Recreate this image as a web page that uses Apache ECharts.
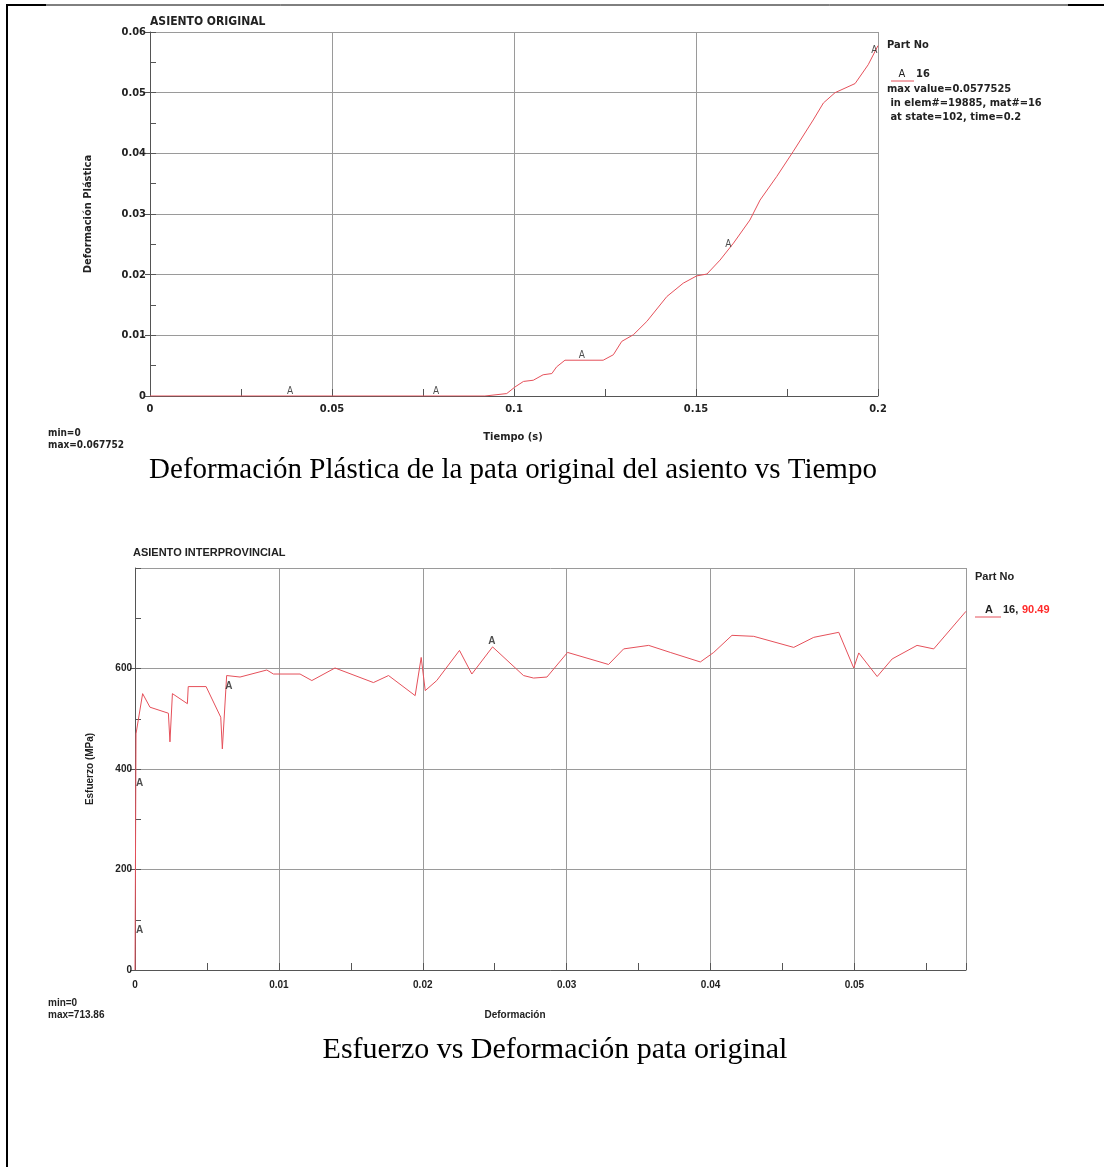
<!DOCTYPE html>
<html>
<head>
<meta charset="utf-8">
<script src="https://cdn.jsdelivr.net/npm/echarts@6/dist/echarts.min.js"></script>
<style>
  html, body { margin: 0; padding: 0; background: #fff; }
  #main { width: 1104px; height: 1167px; }
</style>
</head>
<body>
<div id="main"></div>
<script>
// grafica 1: deformacion plastica vs tiempo
var tiempo = [0, 0.092, 0.098, 0.1003, 0.1026, 0.1053, 0.108, 0.1104, 0.1117, 0.114, 0.1245, 0.1273,
  0.1296, 0.1328, 0.1365, 0.142, 0.1465, 0.1502, 0.153, 0.1566, 0.1603, 0.1648, 0.1676, 0.1722,
  0.1767, 0.1822, 0.185, 0.1882, 0.1937, 0.1973, 0.2];
var defPlastica = [0, 0, 0.0004, 0.0015, 0.0024, 0.0026, 0.0035, 0.0037, 0.0048, 0.0059, 0.0059, 0.0068,
  0.009, 0.0101, 0.0123, 0.0164, 0.0186, 0.0198, 0.0201, 0.0224, 0.0252, 0.029, 0.0323, 0.0362,
  0.0403, 0.0455, 0.0483, 0.05, 0.0515, 0.0546, 0.0577525];
// marcas "A" de la curva 1
var tiempoA = [0.0385, 0.0786, 0.1186, 0.1589, 0.199];
var defA = [0, 0, 0.0059, 0.0241, 0.0562];

// grafica 2: esfuerzo vs deformacion
var deformacion = [0, 0.00007, 0.00053, 0.00104, 0.00232, 0.00243, 0.0026, 0.00364, 0.0037, 0.00494,
  0.00596, 0.00607, 0.00637, 0.0073, 0.00916, 0.00962, 0.01147, 0.01229, 0.0139, 0.01657, 0.01762,
  0.01947, 0.01989, 0.02017, 0.02097, 0.02255, 0.02341, 0.02485, 0.027, 0.0277, 0.02863, 0.03006,
  0.03291, 0.03396, 0.0357, 0.0372, 0.03929, 0.04022, 0.04149, 0.043, 0.04578, 0.04717, 0.04891,
  0.04995, 0.0503, 0.05158, 0.05262, 0.05435, 0.05551, 0.0577525];
var esfuerzo = [0, 470, 550, 523, 511, 454, 550, 530, 564, 564,
  503, 440, 586, 583, 597, 589, 589, 576, 601, 572, 586,
  546, 622, 556, 576, 636, 589, 643, 586, 581, 583, 632,
  608, 639, 646, 632, 613, 632, 666, 664, 642, 662, 672,
  601, 631, 584, 619, 646, 639, 713.86];
var deformacionA = [0, 0, 0.0062, 0.0248];
var esfuerzoA = [79, 371, 565, 642];

var rojo = '#e5505a';
var gris = '#9a9a9a';
var narrow = '"Liberation Sans Narrow", "DejaVu Sans Condensed", sans-serif';
var sans = '"Liberation Sans", Arial, sans-serif';
var serif = '"Liberation Serif", "Times New Roman", serif';

function zip(a, b) {
  return a.map(function (v, i) { return [v, b[i]]; });
}

function txt(text, x, y, font, opts) {
  opts = opts || {};
  return {
    type: 'text',
    rotation: opts.rotation || 0,
    x: x, y: y,
    style: {
      text: text,
      font: font,
      fill: opts.fill || '#222',
      align: opts.align || 'left',
      verticalAlign: opts.va || 'middle'
    }
  };
}

function linea(x1, y1, x2, y2, color, w) {
  return { type: 'line', shape: { x1: x1, y1: y1, x2: x2, y2: y2 }, style: { stroke: color, lineWidth: w } };
}

var chart = echarts.init(document.getElementById('main'), null, { renderer: 'canvas' });

var option = {
  animation: false,
  backgroundColor: '#fff',
  grid: [
    { left: 150, top: 32, width: 728, height: 364 },
    { left: 135, top: 568, width: 831, height: 402 }
  ],
  xAxis: [
    {
      gridIndex: 0, type: 'value', min: 0, max: 0.2, interval: 0.05,
      axisLine: { show: true, onZero: false, lineStyle: { color: '#555', width: 1 } },
      axisTick: { show: false },
      axisLabel: { color: '#222', fontFamily: narrow, fontWeight: 'bold', fontSize: 11, margin: 8 },
      splitLine: { show: true, lineStyle: { color: gris, width: 1 } }
    },
    {
      gridIndex: 0, type: 'value', min: 0, max: 0.2, interval: 0.025, position: 'bottom',
      axisLine: { show: false },
      axisTick: { show: true, inside: true, length: 7, lineStyle: { color: '#555' } },
      axisLabel: { show: false }, splitLine: { show: false }
    },
    {
      gridIndex: 1, type: 'value', min: 0, max: 0.0577525, interval: 0.01,
      axisLine: { show: true, onZero: false, lineStyle: { color: '#555', width: 1 } },
      axisTick: { show: false },
      axisLabel: {
        color: '#222', fontFamily: sans, fontWeight: 'bold', fontSize: 10, margin: 10,
        showMaxLabel: false
      },
      splitLine: { show: true, lineStyle: { color: gris, width: 1 } }
    },
    {
      gridIndex: 1, type: 'value', min: 0, max: 0.0577525, interval: 0.005, position: 'bottom',
      axisLine: { show: false },
      axisTick: { show: true, inside: true, length: 7, lineStyle: { color: '#555' } },
      axisLabel: { show: false }, splitLine: { show: false }
    }
  ],
  yAxis: [
    {
      gridIndex: 0, type: 'value', min: 0, max: 0.06, interval: 0.01,
      name: 'Deformación Plástica', nameLocation: 'middle', nameGap: 56,
      nameTextStyle: { color: '#222', fontFamily: narrow, fontWeight: 'bold', fontSize: 11 },
      axisLine: { show: true, lineStyle: { color: '#555', width: 1 } },
      axisTick: { show: true, inside: false, length: 5, lineStyle: { color: '#555' } },
      axisLabel: { color: '#222', fontFamily: narrow, fontWeight: 'bold', fontSize: 11, margin: 4 },
      splitLine: { show: true, lineStyle: { color: gris, width: 1 } }
    },
    {
      gridIndex: 0, type: 'value', min: 0, max: 0.06, interval: 0.005, position: 'left',
      axisLine: { show: false },
      axisTick: { show: true, inside: true, length: 6, lineStyle: { color: '#555' } },
      axisLabel: { show: false }, splitLine: { show: false }
    },
    {
      gridIndex: 1, type: 'value', min: 0, max: 800, interval: 200,
      name: 'Esfuerzo (MPa)', nameLocation: 'middle', nameGap: 40,
      nameTextStyle: { color: '#222', fontFamily: sans, fontWeight: 'bold', fontSize: 10 },
      axisLine: { show: true, lineStyle: { color: '#555', width: 1 } },
      axisTick: { show: true, inside: false, length: 5, lineStyle: { color: '#555' } },
      axisLabel: {
        color: '#222', fontFamily: sans, fontWeight: 'bold', fontSize: 10, margin: 3,
        showMaxLabel: false
      },
      splitLine: { show: true, lineStyle: { color: gris, width: 1 } }
    },
    {
      gridIndex: 1, type: 'value', min: 0, max: 800, interval: 100, position: 'left',
      axisLine: { show: false },
      axisTick: { show: true, inside: true, length: 6, lineStyle: { color: '#555' } },
      axisLabel: { show: false }, splitLine: { show: false }
    }
  ],
  series: [
    {
      type: 'line', xAxisIndex: 0, yAxisIndex: 0, data: zip(tiempo, defPlastica),
      showSymbol: false, lineStyle: { color: rojo, width: 1 }, z: 5
    },
    {
      type: 'scatter', xAxisIndex: 0, yAxisIndex: 0, data: zip(tiempoA, defA),
      symbolSize: 0, z: 6,
      label: {
        show: true, position: 'top', distance: 0, formatter: 'A',
        color: '#222', fontFamily: narrow, fontSize: 10
      }
    },
    {
      type: 'line', xAxisIndex: 2, yAxisIndex: 2, data: zip(deformacion, esfuerzo),
      showSymbol: false, lineStyle: { color: rojo, width: 1 }, z: 5
    },
    {
      type: 'scatter', xAxisIndex: 2, yAxisIndex: 2,
      data: zip(deformacionA, esfuerzoA).map(function (p) {
        return { value: p, label: { position: p[0] < 0.01 ? 'right' : 'top' } };
      }),
      symbolSize: 0, z: 6,
      label: {
        show: true, distance: 1, formatter: 'A',
        color: '#222', fontFamily: sans, fontWeight: 'bold', fontSize: 10
      }
    }
  ],
  graphic: [
    // marco de la pagina
    linea(6, 5, 1104, 5, '#000', 1),
    linea(6, 5, 46, 5, '#000', 2),
    linea(1068, 5, 1104, 5, '#000', 2),
    linea(7, 4, 7, 1167, '#000', 2),

    // textos grafica 1
    txt('ASIENTO ORIGINAL', 150, 22, 'bold 12px ' + narrow),
    txt('Part No', 887, 45, 'bold 11px ' + narrow),
    linea(891, 81, 914, 81, rojo, 1),
    txt('A', 902, 74, '11px ' + narrow, { align: 'center' }),
    txt('16', 916, 74, 'bold 11px ' + narrow),
    txt('max value=0.0577525', 887, 89, 'bold 11px ' + narrow),
    txt(' in elem#=19885, mat#=16', 887, 103, 'bold 11px ' + narrow),
    txt(' at state=102, time=0.2', 887, 117, 'bold 11px ' + narrow),
    txt('Tiempo (s)', 513, 437, 'bold 11px ' + narrow, { align: 'center' }),
    txt('min=0', 48, 433, 'bold 10px ' + narrow),
    txt('max=0.067752', 48, 445, 'bold 10px ' + narrow),
    txt('Deformación Plástica de la pata original del asiento vs Tiempo', 513, 470, '29px ' + serif, { align: 'center', fill: '#000' }),

    // textos grafica 2
    txt('ASIENTO INTERPROVINCIAL', 133, 553, 'bold 11px ' + sans),
    txt('Part No', 975, 577, 'bold 11px ' + sans),
    linea(975, 617, 1001, 617, rojo, 1),
    txt('A', 989, 610, 'bold 11px ' + sans, { align: 'center' }),
    txt('16,', 1003, 610, 'bold 11px ' + sans),
    txt('90.49', 1022, 610, 'bold 11px ' + sans, { fill: '#ff2a2a' }),
    txt('Deformación', 515, 1015, 'bold 10px ' + sans, { align: 'center' }),
    txt('min=0', 48, 1003, 'bold 10px ' + sans),
    txt('max=713.86', 48, 1015, 'bold 10px ' + sans),
    txt('Esfuerzo vs Deformación pata original', 555, 1050, '30px ' + serif, { align: 'center', fill: '#000' })
  ]
};

chart.setOption(option);
</script>
</body>
</html>
